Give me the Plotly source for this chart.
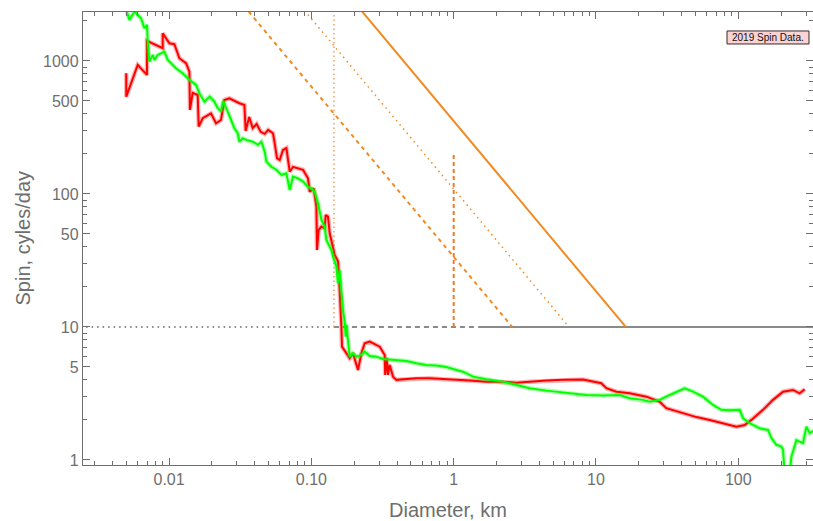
import plotly.graph_objects as go

# Spin rate versus diameter, two survey samples
red_d = [0.0050, 0.0050, 0.00602, 0.00699, 0.00699, 0.00902, 0.00902, 0.01005, 0.01089, 0.01181,
         0.01315, 0.01389, 0.01402, 0.01465, 0.01589, 0.01614, 0.01722, 0.0197, 0.02136, 0.02316,
         0.02446, 0.02653, 0.03119, 0.03382, 0.03453, 0.03655, 0.03869, 0.04125, 0.04402, 0.04696,
         0.04971, 0.0537, 0.0552, 0.05731, 0.05988, 0.06316, 0.06674, 0.06849, 0.07041, 0.07426,
         0.08049, 0.0873, 0.09465, 0.09729, 0.1038, 0.1084, 0.1095, 0.1125, 0.1176, 0.124,
         0.126, 0.1308, 0.1345, 0.1405, 0.1458, 0.1499, 0.1538, 0.1563, 0.1599, 0.1625,
         0.1641, 0.1762, 0.1858, 0.196, 0.2126, 0.2246, 0.2369, 0.2569, 0.2862, 0.302,
         0.3274, 0.33, 0.3382, 0.3453, 0.355, 0.3745, 0.3957, 0.4652, 0.5468, 0.6782,
         0.8411, 1.045, 1.296, 1.697, 2.221, 2.758, 3.42, 4.48, 5.86, 8.10,
         10.91, 11.83, 13.91, 17.26, 22.6, 28.0, 31.2, 40.9, 50.8, 63.0,
         78.1, 97.0, 110.9, 123.6, 149.1, 175.4, 206.2, 242.3, 270.1, 292.9]
red_spin = [808, 539, 934, 785, 1414, 1246, 1616, 1358, 1336, 1048,
            961, 831, 428, 575, 555, 321, 371, 404, 340, 360,
            509, 524, 481, 467, 298, 379, 313, 336, 293, 283,
            303, 286, 241, 186, 180, 214, 221, 175, 147, 160,
            156, 152, 131, 104, 110, 80, 37.9, 53.6, 56.8, 55.2,
            69.5, 67.5, 50.6, 40.2, 34.8, 32.9, 31.0, 23.9, 16.0, 10.05,
            7.11, 6.34, 5.82, 6.34, 4.75, 6.34, 7.54, 7.75, 7.32, 7.11,
            6.16, 4.36, 5.85, 4.36, 5.18, 4.23, 4.00, 4.04, 4.11, 4.11,
            4.04, 4.00, 3.95, 3.88, 3.88, 3.81, 3.88, 3.95, 4.00, 4.03,
            3.77, 3.46, 3.26, 3.17, 2.99, 2.74, 2.45, 2.24, 2.10, 2.00,
            1.89, 1.78, 1.83, 2.00, 2.38, 2.83, 3.26, 3.36, 3.17, 3.40]

green_d = [0.0049, 0.00526, 0.0057, 0.00635, 0.0067, 0.00699, 0.00707, 0.00727, 0.00767, 0.00788,
           0.00832, 0.00927, 0.00978, 0.01031, 0.01118, 0.01246, 0.01389, 0.01545, 0.01633, 0.0177,
           0.01867, 0.01929, 0.02081, 0.02196, 0.02316, 0.024, 0.02581, 0.02723, 0.02877, 0.03034,
           0.03119, 0.03291, 0.03492, 0.03887, 0.04213, 0.04452, 0.04696, 0.04828, 0.05235, 0.05675,
           0.06153, 0.06674, 0.07041, 0.07426, 0.08049, 0.0873, 0.09465, 0.1, 0.1055, 0.1113,
           0.1144, 0.1176, 0.124, 0.1274, 0.1382, 0.1418, 0.1499, 0.1538, 0.158, 0.1625,
           0.1668, 0.1714, 0.1742, 0.1762, 0.1808, 0.1858, 0.196, 0.2071, 0.2246, 0.2369,
           0.2569, 0.2862, 0.3185, 0.3745, 0.4652, 0.5468, 0.6428, 0.7557, 0.8887, 1.045,
           1.162, 1.367, 1.697, 2.221, 2.758, 3.42, 4.48, 5.86, 7.47, 8.56,
           11.2, 14.68, 17.26, 21.4, 23.8, 28.0, 33.0, 36.7, 42.0, 48.1,
           56.5, 66.4, 76.1, 87.0, 102.3, 107.9, 120.3, 141.4, 161.7, 170.8,
           185.2, 200.9, 206.2, 211.9, 229.7, 236.2, 256.1, 284.9, 301.0, 317.6, 344.3]
green_spin = [2600, 2034, 2349, 2095, 1762, 1866, 1439, 988, 1110, 1018,
              1110, 1175, 1018, 961, 881, 808, 720, 660, 572, 494,
              524, 539, 494, 441, 416, 500, 416, 360, 312, 286,
              247, 262, 255, 247, 234, 247, 208, 175, 160, 152,
              139, 143, 107, 135, 131, 124, 113, 110, 104, 85.1,
              71.6, 63.8, 56.8, 45.1, 37.9, 33.8, 28.4, 21.3, 26.8, 17.9,
              13.4, 11.0, 8.46, 10.4, 7.98, 5.95, 6.34, 5.98, 6.16, 6.52,
              6.05, 5.98, 5.75, 5.65, 5.55, 5.34, 5.18, 5.14, 5.00, 4.75,
              4.61, 4.23, 4.04, 3.88, 3.66, 3.46, 3.32, 3.21, 3.11, 3.08,
              3.05, 3.08, 2.91, 2.83, 2.74, 2.83, 3.08, 3.26, 3.46, 3.26,
              2.99, 2.59, 2.38, 2.36, 2.38, 2.06, 1.89, 1.73, 1.68, 1.46,
              1.30, 1.26, 1.19, 0.77, 0.77, 1.06, 1.41, 1.34, 1.78, 1.59, 1.68]

# Power-law guide lines: diameter where each crosses 10 cycles/day, common slope
guide_anchor_d = [2.58, 6.46, 16.2]
guide_slope = -1.28
guide_dash = ["4px,4px", "1.5px,4px", "solid"]
guide_width = [2, 1.5, 2]

spin_limit = 10          # cycles/day floor
rubble_d = 0.144         # km, vertical dotted marker
km_marker_d = 1.0        # km, vertical dashed marker
km_marker_top = 200
solid_from_d = 1.5

x_ticks = [0.01, 0.1, 1, 10, 100]
x_labels = ["0.01", "0.10", "1", "10", "100"]
y_ticks = [1, 5, 10, 50, 100, 500, 1000]
y_labels = ["1", "5", "10", "50", "100", "500", "1000"]

ORANGE = "#f28a22"
GRAY = "#8a8a8a"
AX = "#6e6e6e"
FONT = "Liberation Sans, Arial, sans-serif"

fig = go.Figure()

# horizontal floor at 10 cycles/day: dotted, dashed, then solid
for xs, dash in [([0.002, rubble_d], "1.5px,4px"),
                 ([rubble_d, solid_from_d], "5px,4px"),
                 ([solid_from_d, 400], "solid")]:
    fig.add_trace(go.Scatter(x=xs, y=[spin_limit, spin_limit], mode="lines",
                             line=dict(color=GRAY, width=2, dash=dash),
                             hoverinfo="skip", showlegend=False))

# diagonal guides
for d0, dash, w in zip(guide_anchor_d, guide_dash, guide_width):
    top = 4000
    d_top = d0 * (top / spin_limit) ** (1 / guide_slope)
    fig.add_trace(go.Scatter(x=[d_top, d0], y=[top, spin_limit], mode="lines",
                             line=dict(color=ORANGE, width=w, dash=dash),
                             hoverinfo="skip", showlegend=False))

# vertical markers
fig.add_trace(go.Scatter(x=[rubble_d, rubble_d], y=[spin_limit, 4000], mode="lines",
                         line=dict(color="#f4a060", width=1.5, dash="1.5px,3px"),
                         hoverinfo="skip", showlegend=False))
fig.add_trace(go.Scatter(x=[km_marker_d, km_marker_d], y=[spin_limit, km_marker_top], mode="lines",
                         line=dict(color="#ee7a2a", width=2, dash="4px,3px"),
                         hoverinfo="skip", showlegend=False))

# data series: soft halo underneath, then the line itself
for xs, ys, col, halo in [(red_d, red_spin, "#ff0000", "rgba(255,0,0,0.3)"),
                          (green_d, green_spin, "#00ff00", "rgba(0,255,0,0.3)")]:
    fig.add_trace(go.Scatter(x=xs, y=ys, mode="lines", line=dict(color=halo, width=4.5),
                             hoverinfo="skip", showlegend=False))
    fig.add_trace(go.Scatter(x=xs, y=ys, mode="lines", line=dict(color=col, width=2),
                             showlegend=False))

tickfont = dict(family=FONT, size=16, color=AX)

fig.update_layout(
    width=813, height=521,
    margin=dict(l=83, r=0, t=12, b=56),
    paper_bgcolor="white", plot_bgcolor="white",
    xaxis=dict(type="log", range=[-2.605, 2.525], showgrid=False, zeroline=False,
               showline=True, linecolor=AX, linewidth=1.3, mirror="ticks",
               ticks="inside", ticklen=7, tickcolor=AX, tickwidth=1,
               tickmode="array", tickvals=x_ticks, ticktext=x_labels,
               tickfont=tickfont, automargin=False,
               minor=dict(ticks="inside", ticklen=4, tickcolor=AX, tickwidth=1,
                          tickmode="array",
                          tickvals=[m * 10.0 ** e for e in range(-3, 3) for m in range(2, 10)])),
    yaxis=dict(type="log", range=[-0.038, 3.368], showgrid=False, zeroline=False,
               showline=True, linecolor=AX, linewidth=1.3, mirror="ticks",
               ticks="inside", ticklen=7, tickcolor=AX, tickwidth=1,
               tickmode="array", tickvals=y_ticks, ticktext=y_labels,
               tickfont=tickfont, automargin=False,
               minor=dict(ticks="inside", ticklen=4, tickcolor=AX, tickwidth=1,
                          tickmode="array",
                          tickvals=[m * 10.0 ** e for e in range(0, 4) for m in (2, 3, 4, 6, 7, 8, 9)])),
    shapes=[dict(type="rect", xref="paper", yref="paper",
                 x0=0.8822, x1=0.9945, y0=0.9294, y1=0.9581,
                 fillcolor="#fbd3d3", line=dict(color="#3a2a2a", width=1), layer="above")],
    annotations=[
        dict(text="Diameter, km", xref="paper", yref="paper", x=0.5, y=0.0,
             yshift=-45, xanchor="center", yanchor="middle", showarrow=False,
             font=dict(family=FONT, size=20, color=AX)),
        dict(text="Spin, cyles/day", xref="paper", yref="paper", x=0, y=0.5,
             xshift=-61, textangle=-90, xanchor="center", yanchor="middle", showarrow=False,
             font=dict(family=FONT, size=20, color=AX)),
        dict(text="2019 Spin Data.", xref="paper", yref="paper", x=0.9384, y=0.9437,
             xanchor="center", yanchor="middle", showarrow=False,
             font=dict(family=FONT, size=10, color="#111")),
    ],
)

fig.write_html("out.html")
